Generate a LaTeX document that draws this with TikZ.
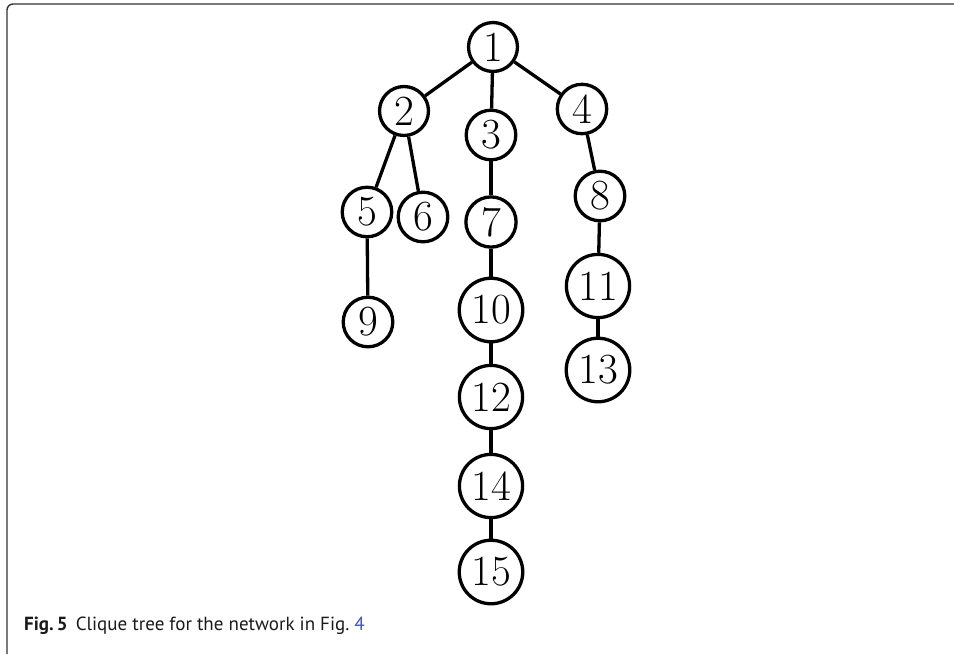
\documentclass[tikz,border=0pt]{standalone}
\usepackage{fontspec}
\newfontfamily\capfont{PT Sans}
\usepackage{xcolor}
\usetikzlibrary{positioning}
\definecolor{Ink}{HTML}{1A1A1A}
\definecolor{Frame}{HTML}{333333}
\definecolor{LinkBlue}{HTML}{3C50D8}

\begin{document}
\begin{tikzpicture}[x=1pt,y=-1pt,
  clq/.style={draw,circle,line width=3.3pt,inner sep=5.2pt,font=\fontsize{43}{43}\selectfont},
  edge/.style={line width=3.3pt,color=black}]
\useasboundingbox (0,0) rectangle (954,654);
\draw[Frame,line width=1.4pt,rounded corners=6pt] (7,654) |- (954,4);
% clique nodes
\node[clq] (c1) at (493,47) {1};
\node[clq] (c2) at (404,111) {2};
\node[clq] (c3) at (491,135) {3};
\node[clq] (c4) at (582,109) {4};
\node[clq] (c5) at (367,212) {5};
\node[clq] (c6) at (423,217) {6};
\node[clq] (c7) at (491,222) {7};
\node[clq] (c8) at (600,196) {8};
\node[clq] (c9) at (368,322) {9};
\node[clq] (c10) at (491,310) {10};
\node[clq] (c11) at (598,286) {11};
\node[clq] (c12) at (491,397) {12};
\node[clq] (c13) at (598,370) {13};
\node[clq] (c14) at (491,486) {14};
\node[clq] (c15) at (491,572) {15};
% tree edges
\draw[edge] (c1)--(c2);
\draw[edge] (c1)--(c3);
\draw[edge] (c1)--(c4);
\draw[edge] (c2)--(c5);
\draw[edge] (c2)--(c6);
\draw[edge] (c3)--(c7);
\draw[edge] (c4)--(c8);
\draw[edge] (c5)--(c9);
\draw[edge] (c7)--(c10);
\draw[edge] (c8)--(c11);
\draw[edge] (c10)--(c12);
\draw[edge] (c11)--(c13);
\draw[edge] (c12)--(c14);
\draw[edge] (c14)--(c15);
% caption
\node[anchor=base west,inner sep=0pt,text=Ink,font=\capfont\fontsize{19}{23}\selectfont] (cap) at (24,630)
  {\textbf{Fig.\,5}\hspace{8pt}Clique tree for the network in Fig.\ \textcolor{LinkBlue}{4}};
\end{tikzpicture}
\end{document}
